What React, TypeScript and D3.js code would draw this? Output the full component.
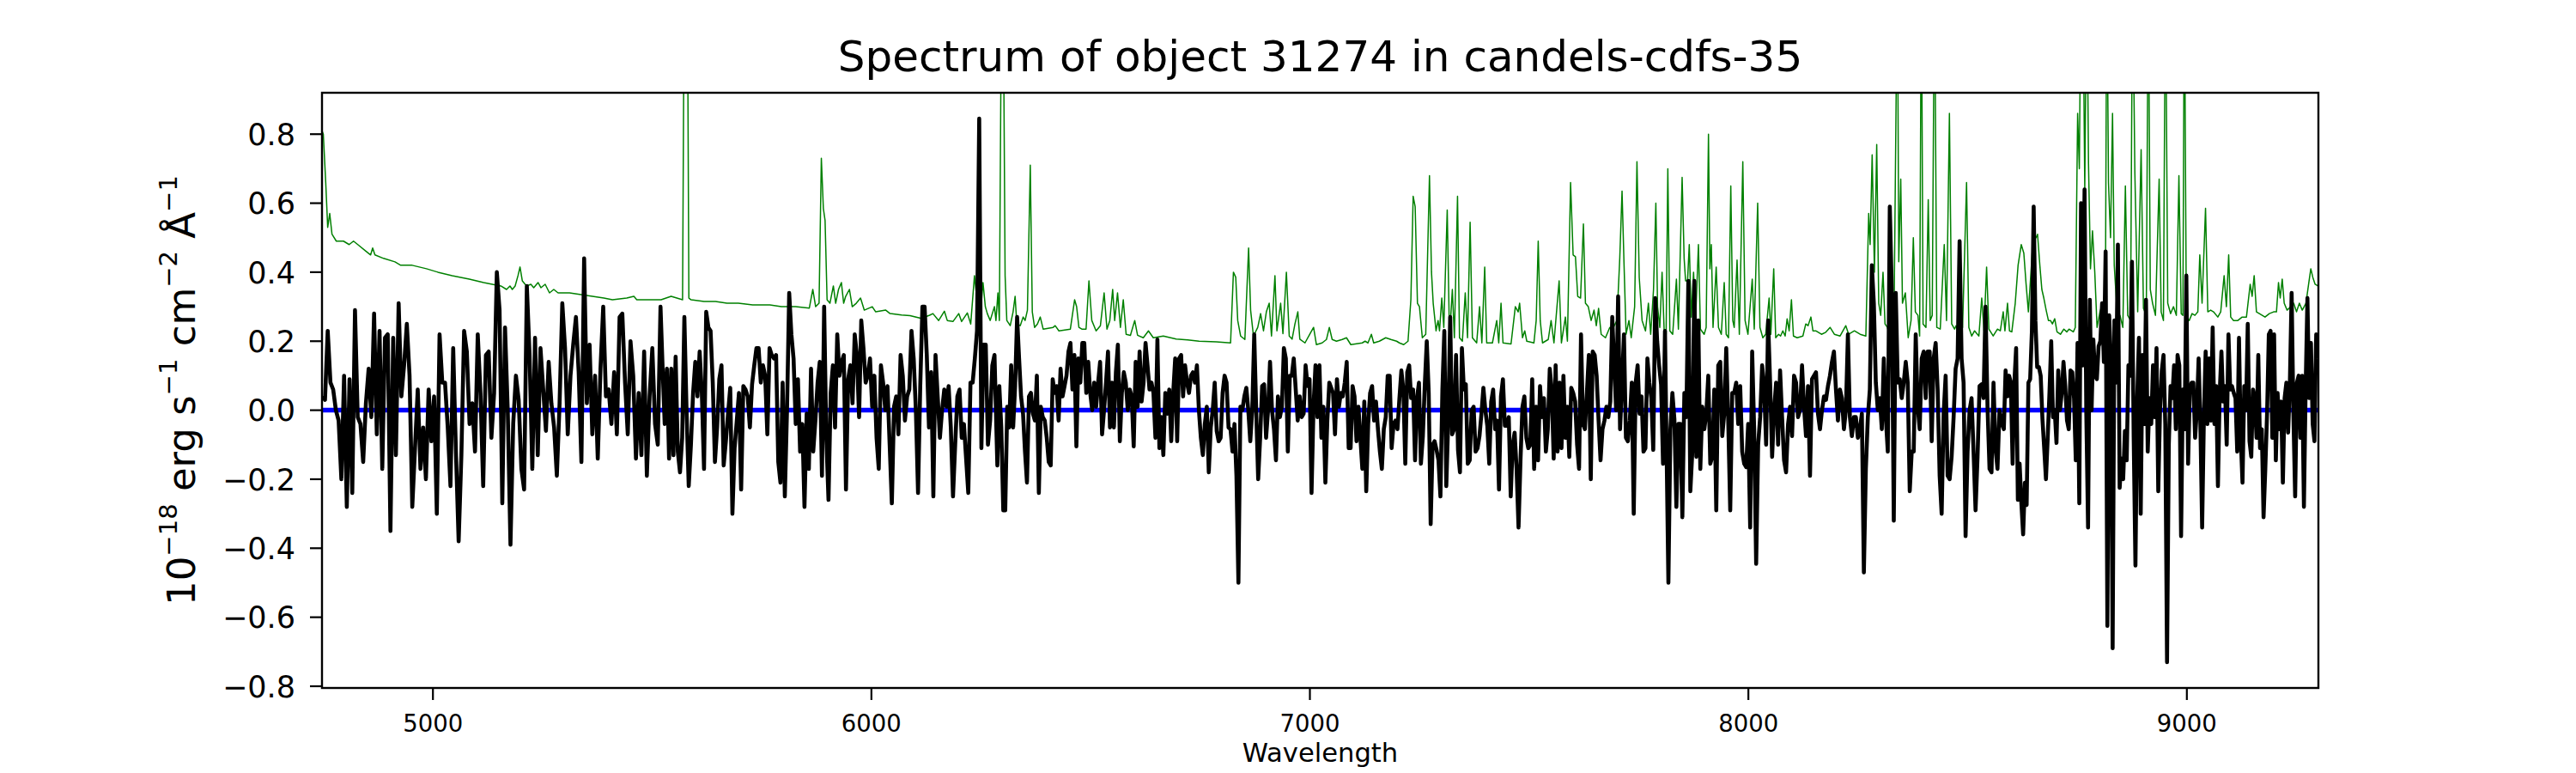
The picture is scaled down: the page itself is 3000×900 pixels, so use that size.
import React from 'react';
import * as d3 from 'd3';

const TITLE = 'Spectrum of object 31274 in candels-cdfs-35';
const X_LABEL = 'Wavelength';
const X_TICKS = [5000, 6000, 7000, 8000, 9000];
const Y_TICKS = [-0.8, -0.6, -0.4, -0.2, 0.0, 0.2, 0.4, 0.6, 0.8];
const X_DOMAIN = [4747, 9300];
const Y_DOMAIN = [-0.805, 0.92];

// observed flux, evenly sampled inside each wavelength span
const fluxSpan1 = [4747.6, 5519.0];
const flux1 = [0.04, 0.03, 0.23, 0.08, 0.06, 0.00, -0.03, -0.20, 0.10, -0.28, 0.09, -0.24, 0.29, -0.02, -0.04, -0.15, 0.02, 0.12, -0.02, 0.28, -0.07, 0.23, -0.17, 0.21, 0.22, -0.35, 0.21, -0.13, 0.31, 0.04, 0.13, 0.25, 0.10, -0.28, -0.11, 0.06, -0.17, -0.05, -0.20, 0.06, -0.09, 0.04, -0.30, 0.22, 0.08, 0.08, -0.05, -0.22, 0.18, -0.12, -0.38, -0.13, 0.23, 0.17, -0.04, 0.02, -0.12, 0.22, 0.05, -0.22, 0.16, 0.17, -0.08, 0.05, 0.40, 0.29, -0.27, 0.24, 0.00, -0.39, -0.04, 0.10, 0.03, -0.17, -0.23, 0.36, 0.16, -0.17, 0.21, -0.13, 0.18, 0.06, -0.06, 0.14, 0.02, -0.05, -0.19, 0.02, 0.31, 0.18, -0.07, 0.10, 0.19, 0.27, 0.11, -0.15, 0.44, 0.02, 0.19, -0.07, 0.10, -0.14, 0.12, 0.30, 0.04, 0.06, -0.04, 0.11, -0.07, 0.27, 0.28, 0.08, -0.07, 0.20, 0.10, -0.14, 0.05, -0.13, 0.17, -0.19, 0.04, 0.18, -0.04, -0.10, 0.30];

const fluxSpan2 = [5523.6, 6280.7];
const flux2 = [0.13, -0.04, 0.12, -0.14, 0.12, -0.13, 0.155, -0.12, -0.18, -0.08, 0.27, 0.00, -0.22, -0.10, 0.05, 0.14, 0.04, 0.17, 0.05, -0.17, 0.285, 0.24, 0.23, 0.08, -0.15, -0.05, 0.09, 0.13, -0.16, -0.09, -0.01, 0.065, -0.30, -0.11, -0.03, 0.05, -0.23, 0.07, 0.06, 0.04, -0.05, 0.075, 0.13, 0.18, 0.18, 0.08, 0.13, 0.10, -0.07, 0.18, 0.16, 0.15, 0.16, -0.15, -0.21, 0.08, -0.25, 0.00, 0.34, 0.22, 0.15, -0.04, 0.09, -0.12, -0.04, -0.28, -0.01, -0.17, 0.12, -0.12, -0.03, 0.08, 0.14, -0.19, 0.30, -0.08, -0.26, 0.05, 0.13, -0.05, 0.22, 0.10, 0.14, 0.16, -0.23, 0.09, 0.13, 0.02, 0.22, 0.16, -0.02, 0.26, 0.18, 0.08, 0.10, 0.15, 0.01, 0.10, -0.08, -0.17, 0.13, 0.08, 0.00, 0.07, -0.10, -0.27, 0.01, 0.04, -0.07, 0.16, 0.10, -0.03, 0.04, 0.06, 0.23, 0.15, 0.00, -0.24, 0.07, 0.30, 0.30, 0.16, -0.05, 0.11, -0.25, 0.16, 0.04, -0.08, 0.00, 0.06, 0.01, 0.07, -0.05, -0.25, -0.10, 0.04, 0.06, -0.08, -0.04, -0.14, -0.24, 0.08, 0.08, 0.15, 0.23, 0.845, -0.11, 0.19, 0.19, -0.10, -0.03, 0.13, 0.16];

const fluxSpan3 = [6287.2, 7044.3];
const flux3 = [-0.16, 0.07, -0.05, -0.29, -0.29, 0.01, -0.05, 0.13, -0.05, 0.07, 0.27, 0.15, 0.04, -0.01, -0.12, -0.21, 0.04, 0.05, -0.01, -0.03, 0.10, -0.24, 0.01, -0.02, -0.03, -0.08, -0.15, -0.16, 0.09, 0.05, 0.07, -0.03, 0.12, 0.04, 0.07, 0.10, 0.17, 0.195, 0.06, 0.16, -0.105, 0.15, 0.08, 0.195, 0.195, 0.05, 0.14, 0.05, 0.00, 0.08, 0.01, 0.08, 0.14, -0.07, 0.00, 0.08, 0.17, -0.05, 0.08, -0.05, 0.11, 0.19, -0.09, 0.05, 0.11, 0.08, 0.00, 0.06, 0.04, -0.105, 0.14, 0.01, 0.17, 0.025, 0.08, 0.195, 0.13, 0.06, 0.08, 0.05, -0.08, 0.205, -0.11, -0.02, -0.13, 0.05, -0.01, 0.06, -0.09, 0.05, 0.15, -0.09, 0.15, 0.16, 0.04, 0.13, 0.08, 0.05, 0.10, 0.11, 0.08, 0.13, 0.00, -0.08, -0.13, -0.04, 0.01, -0.18, -0.05, 0.00, 0.08, -0.06, -0.09, -0.08, 0.05, 0.10, 0.08, -0.05, -0.055, -0.12, -0.04, -0.19, -0.50, 0.01, 0.00, 0.04, 0.065, 0.00, -0.09, 0.00, 0.22, 0.00, -0.20, -0.08, 0.07, 0.075, -0.08, 0.00, 0.14, 0.00, -0.055, -0.145, 0.04, -0.02, 0.01, 0.18, 0.15, -0.12, 0.10, 0.10, 0.15, 0.06, -0.03, 0.04, -0.02, -0.01, 0.13, 0.07, 0.09, -0.24, 0.01, 0.13, -0.02, 0.13, -0.08, 0.01, -0.21, -0.03, 0.08];

const fluxSpan4 = [7052.8, 7809.8];
const flux4 = [0.05, -0.07, 0.09, 0.01, 0.05, 0.04, 0.08, 0.14, -0.11, -0.11, 0.07, 0.04, -0.09, 0.01, -0.08, -0.17, 0.025, -0.235, -0.04, 0.05, 0.07, -0.03, 0.025, -0.055, -0.12, -0.17, -0.055, -0.02, 0.10, 0.10, -0.11, -0.04, -0.03, -0.055, 0.035, 0.115, 0.06, -0.155, 0.11, 0.13, 0.035, 0.06, -0.145, 0.035, 0.08, -0.155, -0.075, 0.075, 0.20, 0.05, -0.33, -0.10, -0.09, -0.115, -0.145, -0.25, 0.06, 0.23, -0.22, -0.03, 0.27, -0.07, -0.055, 0.16, -0.115, -0.18, 0.18, 0.06, 0.075, -0.155, -0.145, 0.00, 0.01, -0.12, -0.11, -0.075, -0.01, 0.065, 0.00, -0.045, -0.155, 0.025, 0.06, -0.055, -0.03, -0.23, 0.04, 0.09, -0.045, -0.045, -0.02, -0.25, -0.10, -0.065, -0.17, -0.34, -0.145, 0.01, 0.04, -0.08, -0.11, -0.10, 0.09, -0.17, 0.01, -0.145, 0.07, -0.02, 0.035, -0.12, -0.055, 0.12, 0.06, -0.14, 0.13, -0.12, 0.08, -0.11, 0.10, -0.08, 0.01, -0.135, 0.065, 0.05, 0.025, -0.10, -0.17, 0.22, -0.04, -0.055, 0.05, 0.16, -0.20, 0.17, 0.16, 0.10, -0.03, -0.145, -0.055, -0.03, 0.01, -0.02, 0.025, 0.27, 0.13, 0.00, 0.33, -0.055, 0.08, 0.22, -0.08, -0.09, -0.03, 0.08, -0.30, 0.08, 0.13, -0.01, 0.04, -0.12, -0.11, 0.15, 0.08, 0.035, -0.115, 0.325, 0.20, 0.13, 0.075, -0.155, 0.23];

const fluxSpan5 = [7817.6, 8572.7];
const flux5 = [-0.50, -0.055, 0.05, -0.025, -0.28, -0.04, -0.04, -0.31, 0.05, -0.02, 0.375, -0.235, -0.12, 0.375, -0.135, 0.26, -0.17, 0.01, -0.055, -0.01, 0.10, -0.155, -0.135, 0.06, -0.29, 0.13, 0.14, -0.075, -0.01, 0.18, -0.03, -0.29, 0.05, 0.05, 0.08, -0.04, 0.07, -0.12, -0.155, -0.165, -0.04, -0.34, 0.17, -0.055, -0.445, -0.10, -0.02, 0.13, 0.07, -0.10, 0.26, 0.08, -0.135, 0.00, 0.08, -0.10, 0.115, -0.02, -0.145, -0.18, -0.04, 0.01, -0.075, 0.10, 0.08, -0.02, 0.00, 0.13, 0.01, -0.075, 0.07, -0.19, 0.09, 0.10, 0.11, -0.01, -0.055, 0.00, 0.04, 0.03, 0.07, 0.10, 0.14, 0.17, 0.06, -0.03, 0.06, 0.035, -0.055, 0.00, 0.22, -0.02, -0.075, -0.02, -0.02, -0.08, -0.055, -0.01, -0.47, -0.17, -0.02, 0.06, 0.42, 0.31, 0.08, 0.00, 0.035, -0.055, 0.15, -0.02, -0.12, 0.59, 0.35, -0.32, 0.34, 0.08, 0.09, 0.035, 0.08, 0.14, 0.08, -0.235, -0.12, -0.12, 0.22, 0.01, -0.055, 0.15, 0.17, 0.035, 0.17, 0.17, -0.09, 0.15, 0.195, 0.06, -0.19, -0.30, -0.01, 0.10, -0.19, -0.20, -0.135, -0.02, 0.12, 0.15, 0.49, 0.15, 0.08, -0.365, -0.12, 0.00, 0.035, -0.12, -0.29, -0.135, 0.07, 0.075, 0.035, 0.30, 0.01, -0.17, -0.18, 0.08, -0.11, -0.17, 0.00];

const fluxSpan6 = [8578.6, 9299.0];
const flux6 = [-0.04, -0.055, 0.115, 0.04, 0.10, 0.08, -0.155, 0.08, 0.18, -0.26, -0.155, -0.27, -0.36, -0.21, -0.275, 0.08, 0.09, 0.23, 0.59, 0.26, 0.125, 0.125, 0.10, -0.025, -0.11, -0.20, -0.08, 0.05, 0.20, -0.02, 0.00, -0.095, 0.115, 0.00, 0.05, 0.14, 0.07, -0.03, -0.055, 0.115, 0.11, 0.035, -0.145, 0.195, -0.27, 0.60, 0.13, 0.64, -0.01, -0.34, 0.32, 0.00, 0.205, 0.10, 0.09, 0.185, 0.20, 0.31, 0.14, 0.46, -0.625, 0.275, 0.15, -0.69, 0.26, 0.08, 0.48, -0.225, -0.14, -0.20, -0.06, -0.145, 0.13, 0.10, 0.43, -0.08, -0.45, 0.035, 0.21, -0.30, 0.16, -0.04, 0.32, -0.12, 0.035, -0.04, 0.13, -0.02, 0.18, -0.235, 0.00, 0.115, 0.16, -0.04, -0.73, -0.10, 0.07, 0.035, 0.13, -0.055, 0.16, 0.13, -0.365, 0.06, -0.055, 0.39, -0.155, 0.06, 0.08, 0.08, -0.08, 0.00, 0.15, -0.04, -0.34, -0.02, 0.17, -0.04, 0.15, -0.03, 0.24, -0.04, 0.07, -0.22, 0.05, 0.17, 0.025, 0.07, -0.10, 0.22, 0.06, 0.07, 0.05, 0.035, -0.12, 0.21, -0.08, -0.21, 0.07, 0.00, 0.25, -0.09, -0.135, 0.06, 0.035, -0.08, 0.16, -0.11, -0.055, -0.31, -0.17, -0.01, 0.22, 0.23, -0.08, 0.22, -0.145, 0.05, -0.055, 0.025, -0.21, 0.035, 0.08, -0.065, 0.08, 0.34, -0.01, -0.25, 0.08, 0.10, -0.08, 0.10, -0.28, 0.07, 0.325, 0.035, 0.195, -0.04, -0.09, 0.22, 0.15];

// noise / sky spectrum, [wavelength, value]
const sky1 = [[4747, 0.81], [4750, 0.80], [4755.5, 0.66], [4760, 0.53], [4764.6, 0.57], [4769.8, 0.51], [4779.6, 0.49], [4796, 0.49], [4809, 0.48], [4818.8, 0.49], [4828.6, 0.48], [4848.1, 0.46], [4857.9, 0.45], [4862.5, 0.47], [4867.7, 0.45], [4887.3, 0.44], [4913.4, 0.43], [4926.5, 0.42], [4952.6, 0.42], [4985.2, 0.41], [5011.3, 0.40], [5043.9, 0.39], [5083.1, 0.38], [5115.7, 0.37], [5154.9, 0.36], [5167.9, 0.35], [5175.7, 0.36], [5181, 0.35], [5187.5, 0.36], [5194, 0.39], [5198.6, 0.415], [5203.8, 0.375], [5213.6, 0.36], [5223.4, 0.365], [5229.9, 0.355], [5239.7, 0.37], [5246.2, 0.355], [5256, 0.365], [5265.8, 0.34], [5275.6, 0.35], [5285.4, 0.34], [5311.5, 0.34], [5337.6, 0.335], [5363.7, 0.33], [5389.8, 0.325], [5409.4, 0.32], [5442, 0.325], [5458.3, 0.33], [5464.9, 0.32], [5487.7, 0.32], [5520.3, 0.32]];
const sky2 = [[5543.2, 0.33], [5569.3, 0.32], [5574.5, 1.6], [5579.1, 1.6], [5583.7, 0.325], [5588.9, 0.32], [5618.3, 0.315], [5644.4, 0.315], [5670.5, 0.31], [5696.6, 0.31], [5729.2, 0.305], [5768.4, 0.305], [5794.5, 0.30], [5827.1, 0.30], [5858.4, 0.296], [5866.3, 0.35], [5872.8, 0.30], [5880.6, 0.31], [5885.8, 0.73], [5890.4, 0.585], [5894.3, 0.55], [5898.9, 0.32], [5905.4, 0.31], [5913.2, 0.36], [5918.5, 0.31], [5925, 0.35], [5931.5, 0.37], [5936.7, 0.31], [5941.3, 0.33], [5949.8, 0.35], [5956.3, 0.30], [5965.5, 0.31], [5975.2, 0.325], [5983.7, 0.29], [6002, 0.30], [6009.8, 0.285], [6032.7, 0.29], [6042.5, 0.28], [6068.6, 0.276], [6088.1, 0.274], [6114.2, 0.266], [6133.8, 0.276], [6140.3, 0.28], [6153.4, 0.26], [6166.4, 0.287], [6173, 0.26], [6186, 0.257], [6199.1, 0.28], [6205.6, 0.257], [6218.7, 0.282], [6226.5, 0.25], [6235, 0.39], [6241.5, 0.31], [6248, 0.27], [6254.5, 0.37], [6259.8, 0.30], [6264.3, 0.28], [6270.9, 0.26], [6280.6, 0.30]];
const sky3 = [[6284, 0.26], [6288.5, 0.34], [6291.8, 0.26], [6297, 1.3], [6300.3, 1.3], [6304.9, 0.39], [6308.8, 0.26], [6316.6, 0.245], [6323.1, 0.285], [6327.7, 0.33], [6331.6, 0.25], [6339.4, 0.245], [6346, 0.27], [6350.5, 0.26], [6355.8, 0.29], [6362.3, 0.71], [6366.9, 0.285], [6372.1, 0.24], [6378.6, 0.25], [6385.1, 0.27], [6391.7, 0.235], [6414.5, 0.24], [6419.1, 0.245], [6427.6, 0.23], [6453.7, 0.235], [6463.4, 0.32], [6468, 0.30], [6473.2, 0.24], [6479.8, 0.235], [6489.5, 0.235], [6496.1, 0.375], [6502.6, 0.26], [6512.4, 0.23], [6522.2, 0.245], [6530.7, 0.34], [6537.2, 0.235], [6543.7, 0.26], [6550.2, 0.35], [6554.8, 0.26], [6561.3, 0.34], [6567.9, 0.24], [6574.4, 0.32], [6580.9, 0.22], [6590.7, 0.217], [6600.5, 0.26], [6607, 0.217], [6620.1, 0.21], [6631.8, 0.23], [6642.9, 0.21], [6665.7, 0.215], [6695.1, 0.206], [6721.2, 0.204], [6747.3, 0.20], [6786.5, 0.198], [6819.1, 0.195], [6825.6, 0.40], [6830.9, 0.385], [6835.4, 0.26], [6842, 0.215], [6851.7, 0.205], [6860.2, 0.47], [6864.8, 0.29], [6871.3, 0.215], [6881.1, 0.24], [6887.6, 0.28], [6894.2, 0.23], [6900.7, 0.285], [6907.2, 0.31], [6912.4, 0.215], [6920.3, 0.39], [6924.8, 0.23], [6933.3, 0.31], [6938.5, 0.222], [6946.4, 0.40], [6952.9, 0.215], [6959.4, 0.206], [6965.9, 0.25], [6972.5, 0.285], [6977, 0.206], [6988.8, 0.195], [7000.5, 0.222], [7008.4, 0.24], [7014.9, 0.19], [7027.9, 0.195]];
const sky4 = [[7037.8, 0.205], [7044.3, 0.24], [7050.8, 0.205], [7060.6, 0.20], [7073.7, 0.205], [7083.5, 0.21], [7093.3, 0.19], [7119.4, 0.195], [7125.9, 0.20], [7132.4, 0.195], [7140.2, 0.22], [7145.5, 0.195], [7158.5, 0.20], [7172.9, 0.21], [7184.6, 0.205], [7197.7, 0.20], [7204.2, 0.195], [7214, 0.19], [7223.8, 0.20], [7230.3, 0.32], [7235.5, 0.62], [7240.1, 0.59], [7245.3, 0.31], [7249.9, 0.30], [7256.4, 0.21], [7264.2, 0.22], [7272.7, 0.68], [7277.3, 0.40], [7281.2, 0.31], [7287.7, 0.23], [7292.3, 0.26], [7295.6, 0.23], [7300.8, 0.325], [7305.4, 0.24], [7313.2, 0.58], [7318.4, 0.21], [7324.9, 0.35], [7329.5, 0.21], [7336.7, 0.62], [7341.2, 0.21], [7347.8, 0.20], [7354.3, 0.34], [7359.5, 0.21], [7365.4, 0.545], [7370.6, 0.21], [7380.4, 0.195], [7386.9, 0.30], [7392.2, 0.195], [7398.7, 0.415], [7403.2, 0.195], [7416.3, 0.195], [7426.1, 0.26], [7430.7, 0.195], [7435.9, 0.31], [7440.4, 0.195], [7458.7, 0.192], [7468.5, 0.30], [7475, 0.285], [7478.3, 0.31], [7484.8, 0.21], [7490, 0.23], [7494.6, 0.20], [7510.9, 0.195], [7516.1, 0.26], [7520.7, 0.49], [7525.3, 0.26], [7530.5, 0.195], [7543.6, 0.205], [7550.1, 0.26], [7556.6, 0.195], [7568.4, 0.375], [7573.6, 0.195], [7582.7, 0.27], [7587.3, 0.20], [7594.5, 0.66], [7600.3, 0.45], [7605.6, 0.445], [7610.8, 0.33], [7617.3, 0.325], [7623.8, 0.54], [7628.4, 0.31], [7634.9, 0.30], [7641.4, 0.26], [7648, 0.29], [7653.2, 0.245], [7658.4, 0.295], [7664.3, 0.22], [7674.1, 0.21], [7683.9, 0.24], [7690.4, 0.235], [7700.2, 0.26], [7706.7, 0.44], [7711.9, 0.635], [7716.5, 0.42], [7721.1, 0.22], [7727.6, 0.26], [7732.8, 0.21], [7740.6, 0.30], [7745.9, 0.72], [7751.1, 0.385], [7757.6, 0.26], [7765.4, 0.23], [7772, 0.31], [7777.2, 0.22], [7783.7, 0.35], [7789, 0.60], [7792.9, 0.30]];
const sky5 = [[7798, 0.24], [7803.2, 0.40], [7807.8, 0.235], [7812.4, 0.22], [7816.3, 0.70], [7820.9, 0.23], [7827.4, 0.22], [7835.9, 0.38], [7840.4, 0.235], [7848.9, 0.675], [7853.5, 0.44], [7856.8, 0.375], [7861.3, 0.375], [7865.2, 0.48], [7869.8, 0.27], [7875, 0.40], [7879.6, 0.26], [7886.1, 0.48], [7890.7, 0.235], [7899.2, 0.22], [7903.7, 0.24], [7909, 0.80], [7912.2, 0.41], [7915.5, 0.48], [7919.4, 0.24], [7926.6, 0.415], [7931.8, 0.24], [7938.3, 0.22], [7944.9, 0.37], [7949.4, 0.22], [7954.7, 0.21], [7959.9, 0.65], [7964.4, 0.26], [7967.7, 0.24], [7974.2, 0.435], [7979.4, 0.22], [7987.3, 0.72], [7992.5, 0.26], [7999, 0.22], [8008.8, 0.38], [8013.4, 0.235], [8021.2, 0.60], [8026.4, 0.24], [8033, 0.21], [8039.5, 0.22], [8047.3, 0.325], [8051.2, 0.22], [8057.8, 0.41], [8062.3, 0.21], [8068.9, 0.22], [8073.4, 0.215], [8078.6, 0.23], [8083.9, 0.215], [8088.4, 0.265], [8093, 0.23], [8098.2, 0.32], [8102.8, 0.215], [8111.3, 0.21], [8124.3, 0.215], [8130.9, 0.25], [8136.1, 0.245], [8142.6, 0.27], [8147.2, 0.23], [8153.7, 0.23], [8166.7, 0.22], [8176.5, 0.226], [8186.3, 0.24], [8196.1, 0.22], [8209.2, 0.215], [8222.2, 0.245], [8228.7, 0.22], [8241.8, 0.23], [8254.9, 0.22], [8267.9, 0.215], [8274.4, 0.57], [8277.7, 0.48], [8282.3, 0.74], [8287.5, 0.40], [8292.7, 0.77], [8297.3, 0.31], [8301.8, 0.275], [8307.1, 0.40], [8311.6, 0.25], [8316.9, 0.24], [8323.4, 0.215], [8331.9, 0.23], [8336.4, 0.83], [8339.7, 1.3], [8343, 0.43], [8347.5, 0.67], [8351.4, 0.31], [8358, 0.34], [8364.5, 0.21], [8371, 0.26], [8376.2, 0.50], [8380.8, 0.285], [8386.7, 0.275], [8390.6, 0.215], [8394.5, 1.3], [8398.4, 0.25], [8405, 0.24], [8410.2, 0.61], [8414.7, 0.26], [8419.3, 0.275], [8424.5, 1.3], [8429.7, 0.24], [8437.6, 0.235], [8446.7, 0.48], [8451.9, 0.26], [8458.5, 0.86], [8463.7, 0.25], [8470.2, 0.235], [8473.5, 0.245], [8480, 0.215], [8488.5, 0.24], [8497.6, 0.66], [8502.8, 0.24], [8509.4, 0.215], [8515.9, 0.23], [8525.7, 0.215], [8532.2, 0.325], [8537.4, 0.23], [8543.3, 0.415], [8548.5, 0.235], [8558.3, 0.215], [8568.1, 0.235], [8574.6, 0.23]];
const sky6 = [[8581.2, 0.285], [8585.1, 0.23], [8591, 0.31], [8595.5, 0.23], [8600.8, 0.227], [8608.6, 0.31], [8615.1, 0.42], [8622.3, 0.48], [8628.2, 0.455], [8633.4, 0.365], [8638.6, 0.285], [8643.2, 0.375], [8647.7, 0.465], [8651.7, 0.51], [8656.2, 0.50], [8659.5, 0.51], [8664.7, 0.42], [8669.3, 0.35], [8673.8, 0.325], [8679.1, 0.29], [8684.3, 0.26], [8688.9, 0.26], [8693.4, 0.25], [8698.7, 0.265], [8703.9, 0.227], [8711.7, 0.22], [8719.5, 0.235], [8726.1, 0.227], [8731.3, 0.235], [8741.1, 0.227], [8745.6, 0.24], [8750.9, 0.86], [8754.8, 0.70], [8758.7, 1.3], [8762.6, 1.3], [8767.2, 0.64], [8771.7, 1.3], [8775.7, 0.715], [8780.2, 0.41], [8784.8, 0.52], [8790, 0.40], [8795.2, 0.24], [8801.8, 0.285], [8808.3, 0.31], [8814.2, 0.30], [8817.4, 1.3], [8821.3, 0.66], [8825.9, 0.50], [8830.5, 0.86], [8834.4, 0.42], [8840.9, 0.285], [8847.4, 0.275], [8854, 0.24], [8859.8, 0.65], [8865.1, 0.275], [8871.6, 0.26], [8876.2, 1.3], [8881.4, 0.69], [8887.9, 0.285], [8895.7, 0.755], [8901, 0.295], [8907.5, 0.275], [8912.1, 1.3], [8916.6, 0.35], [8921.8, 0.31], [8928.4, 0.275], [8936.8, 0.67], [8941.4, 0.285], [8946.6, 0.26], [8951.2, 1.3], [8956.4, 0.31], [8962.9, 0.28], [8969.5, 0.30], [8976, 0.275], [8981.9, 0.68], [8987.1, 0.28], [8991, 0.275], [8994.3, 1.3], [8998.8, 0.27], [9005.4, 0.26], [9011.9, 0.28], [9018.4, 0.275], [9025, 0.285], [9029.5, 0.45], [9034.7, 0.31], [9042.6, 0.585], [9047.8, 0.285], [9054.3, 0.29], [9060.8, 0.285], [9070.6, 0.27], [9077.2, 0.285], [9085, 0.39], [9090.2, 0.30], [9095.4, 0.45], [9100, 0.27], [9106.5, 0.26], [9116.3, 0.26], [9126.1, 0.27], [9135.9, 0.27], [9144.4, 0.365], [9148.9, 0.33], [9153.5, 0.39], [9158.7, 0.285], [9165.3, 0.28], [9178.3, 0.27], [9188.1, 0.28], [9197.9, 0.285], [9204.4, 0.285], [9209, 0.37], [9212.9, 0.325], [9217.5, 0.38], [9222, 0.31], [9228.6, 0.29], [9237, 0.30], [9243.6, 0.31], [9250.1, 0.285], [9256.6, 0.31], [9263.2, 0.29], [9271.6, 0.31], [9278.2, 0.37], [9282.7, 0.41], [9287.3, 0.385], [9292.5, 0.365], [9299, 0.36], [9305, 0.36]];

// model / zero level
const model = [[4747, 0], [9300, 0]];

const FLUX_SEGMENTS = [
  { span: fluxSpan1, values: flux1 },
  { span: fluxSpan2, values: flux2 },
  { span: fluxSpan3, values: flux3 },
  { span: fluxSpan4, values: flux4 },
  { span: fluxSpan5, values: flux5 },
  { span: fluxSpan6, values: flux6 },
];
const SKY = [...sky1, ...sky2, ...sky3, ...sky4, ...sky5, ...sky6];

const W = 3000;
const H = 900;
const left = 375;
const right = 2700;
const top = 108;
const bottom = 801;
const FONT = 'DejaVu Sans';
const MINUS = '\u2212';

export default function App() {
  const x = d3.scaleLinear().domain(X_DOMAIN).range([left, right]);
  const y = d3.scaleLinear().domain(Y_DOMAIN).range([bottom, top]);

  const flux = FLUX_SEGMENTS.flatMap(({ span, values }) =>
    values.map((v, i) => [span[0] + ((span[1] - span[0]) * i) / (values.length - 1), v])
  );

  const line = d3.line<number[]>().x(d => x(d[0])).y(d => y(d[1]));
  const fmt = d3.format('.1f');
  const sup = 29;
  const lift = 21;

  return (
    <svg width={W} height={H} style={{ display: 'block' }} fontFamily={FONT}>
      <style>{'body{margin:0}'}</style>
      <rect width={W} height={H} fill="#fff" />
      <defs>
        <clipPath id="plot">
          <rect x={left} y={top} width={right - left} height={bottom - top} />
        </clipPath>
      </defs>

      <g clipPath="url(#plot)" fill="none" strokeLinejoin="round">
        <path d={line(SKY) ?? ''} stroke="#008000" strokeWidth={1.5} />
        <path d={line(model) ?? ''} stroke="#0000ff" strokeWidth={5.5} />
        <path d={line(flux) ?? ''} stroke="#000" strokeWidth={4.6} />
      </g>

      <rect x={left} y={top} width={right - left} height={bottom - top} fill="none" stroke="#000" strokeWidth={2.4} />

      {X_TICKS.map(t => (
        <g key={t}>
          <line x1={x(t)} x2={x(t)} y1={bottom} y2={bottom + 14} stroke="#000" strokeWidth={2.2} />
          <text x={x(t)} y={852} fontSize={27.5} textAnchor="middle">{t}</text>
        </g>
      ))}
      {Y_TICKS.map(t => (
        <g key={t}>
          <line x1={left - 14} x2={left} y1={y(t)} y2={y(t)} stroke="#000" strokeWidth={2.2} />
          <text x={344} y={y(t) + 12.7} fontSize={35} textAnchor="end">{fmt(t)}</text>
        </g>
      ))}

      <text x={(left + right) / 2} y={83} fontSize={50} textAnchor="middle">{TITLE}</text>
      <text x={(left + right) / 2} y={887} fontSize={30.6} textAnchor="middle">{X_LABEL}</text>

      <text transform={`translate(227,${(top + bottom) / 2}) rotate(-90)`} fontSize={45} textAnchor="middle">
        10<tspan dy={-lift} fontSize={sup}>{MINUS}18</tspan>
        <tspan dy={lift}>{' erg s'}</tspan>
        <tspan dy={-lift} fontSize={sup}>{MINUS}1</tspan>
        <tspan dy={lift}>{' cm'}</tspan>
        <tspan dy={-lift} fontSize={sup}>{MINUS}2</tspan>
        <tspan dy={lift}>{' \u00c5'}</tspan>
        <tspan dy={-lift} fontSize={sup}>{MINUS}1</tspan>
      </text>
    </svg>
  );
}
